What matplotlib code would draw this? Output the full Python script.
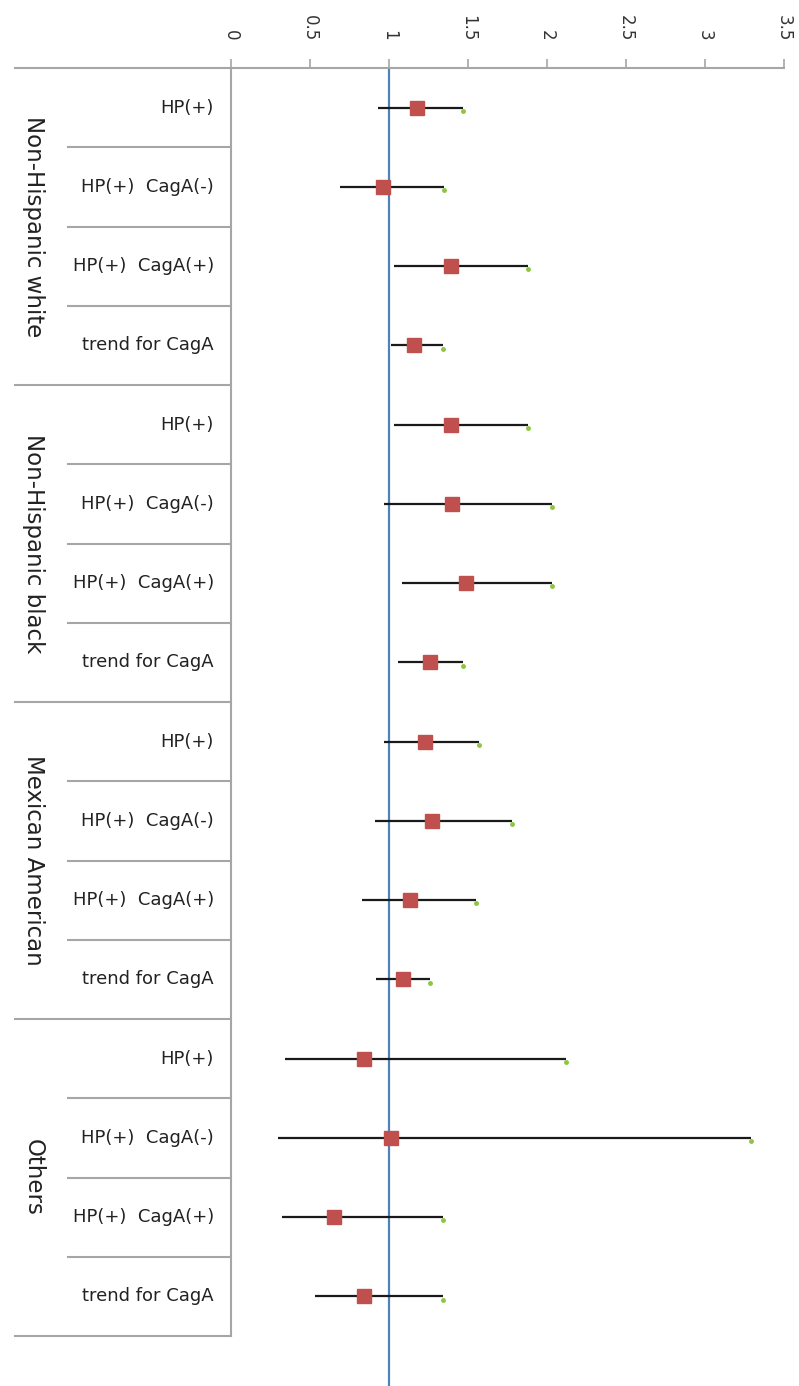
import numpy as np
import matplotlib.pyplot as plt
import matplotlib.transforms as mtransforms

groups = ["Non-Hispanic white", "Non-Hispanic black", "Mexican American", "Others"]
rows = ["HP(+)", "HP(+)  CagA(-)", "HP(+)  CagA(+)", "trend for CagA"]

# odds ratio, lower and upper CI, 4 rows per group in order
est = [1.18, 0.96, 1.39, 1.16,
       1.39, 1.40, 1.49, 1.26,
       1.23, 1.27, 1.13, 1.09,
       0.84, 1.01, 0.65, 0.84]
low = [0.93, 0.69, 1.03, 1.01,
       1.03, 0.97, 1.08, 1.06,
       0.97, 0.91, 0.83, 0.92,
       0.34, 0.30, 0.32, 0.53]
high = [1.47, 1.35, 1.88, 1.34,
        1.88, 2.03, 2.03, 1.47,
        1.57, 1.78, 1.55, 1.26,
        2.12, 3.29, 1.34, 1.34]
xticks = [0, 0.5, 1, 1.5, 2, 2.5, 3, 3.5]

W, H = 799, 1386
fig = plt.figure(figsize=(W / 100, H / 100), dpi=100)
ax = fig.add_axes([231 / W, 0, (784 - 231) / W, 1 - 68 / H])

n = len(est)
ypos = np.arange(n) + 0.5
grid = "#a6a6a6"
font = "DejaVu Sans"

# confidence intervals and estimates
ax.hlines(ypos, low, high, color="#1a1a1a", lw=1.6, zorder=3)
ax.plot(high, ypos + 0.04, ls="none", marker="o", ms=2.5, color="#8dc63f", zorder=4)
ax.plot(est, ypos, ls="none", marker="s", ms=10, color="#c0504d", zorder=5)
ax.axvline(1, color="#4f81bd", lw=1.6, zorder=2)

ax.set_xlim(0, 3.5)
extra = 50 / ((H - 68 - 50) / n)
ax.set_ylim(n + extra, 0)
ax.set_yticks([])
for s in ["left", "right", "bottom"]:
    ax.spines[s].set_visible(False)
ax.spines["top"].set_color(grid)
ax.spines["top"].set_linewidth(1.5)
ax.xaxis.tick_top()
ax.set_xticks(xticks)
ax.set_xticklabels([f"{t:g}" for t in xticks], fontsize=12, family=font, color="#333333")
ax.tick_params(axis="x", direction="out", length=6.5, width=1.2, color=grid,
               labelrotation=-90, pad=13)

# table on the left
tr = mtransforms.blended_transform_factory(fig.transFigure, ax.transData)
ax.plot([231 / W, 231 / W], [0, n], transform=tr, color=grid, lw=1.5, clip_on=False)
ax.plot([15 / W, 231 / W], [0, 0], transform=tr, color=grid, lw=1.5, clip_on=False)
for g in range(len(groups)):
    y0 = g * len(rows)
    ax.plot([15 / W, 231 / W], [y0 + len(rows)] * 2, transform=tr, color=grid, lw=1.5,
            clip_on=False)
    for k in range(1, len(rows)):
        ax.plot([68 / W, 231 / W], [y0 + k] * 2, transform=tr, color=grid, lw=1.5,
                clip_on=False)
    ax.text(33 / W, y0 + len(rows) / 2, groups[g], transform=tr, rotation=-90,
            ha="center", va="center", fontsize=16.5, family=font, color="#222222")
    for k, r in enumerate(rows):
        ax.text(214 / W, y0 + k + 0.5, r, transform=tr, ha="right", va="center",
                fontsize=13, family=font, color="#222222")

fig.savefig("out.png", dpi=100)
